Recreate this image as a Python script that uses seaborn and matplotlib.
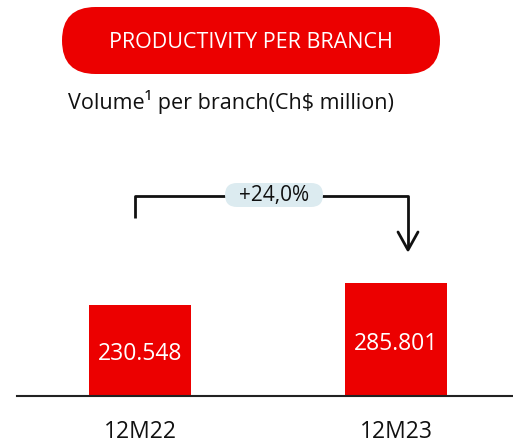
import matplotlib
matplotlib.use("Agg")
import matplotlib.pyplot as plt
from matplotlib.patches import FancyBboxPatch
import seaborn as sns
import pandas as pd

categories = ["12M22", "12M23"]
values = [230.548, 285.801]
value_labels = ["230.548", "285.801"]
title = "PRODUCTIVITY PER BRANCH"
subtitle = "Volume¹ per branch(Ch$ million)"
change_label = "+24,0%"

RED = "#EC0000"
W, H = 513, 445

sns.set_theme(style="white")
plt.rcParams["font.family"] = ["Open Sans", "DejaVu Sans"]

fig = plt.figure(figsize=(W / 100, H / 100), dpi=100)

# overlay axes in pixel coordinates for decorations
ov = fig.add_axes([0, 0, 1, 1])
ov.set_xlim(0, W)
ov.set_ylim(H, 0)
ov.axis("off")

# bar axes
base_y = 396
top_y = 170
left_x = 17
ax = fig.add_axes([left_x / W, (H - base_y) / H, (W - left_x) / W, (base_y - top_y) / H])
df = pd.DataFrame({"period": categories, "value": values})
sns.barplot(data=df, x="period", y="value", color=RED, saturation=1, width=102 / 256, ax=ax)
px_per_unit = 91 / 230.548
ax.set_ylim(0, (base_y - top_y) / px_per_unit)
x0 = -(140 - left_x) / 256
ax.set_xlim(x0, x0 + (W - left_x) / 256)
for p in ax.patches:
    p.set_edgecolor("none")
sns.despine(ax=ax, left=True, top=True, right=True, bottom=False)
ax.spines["bottom"].set_color("#222222")
ax.spines["bottom"].set_linewidth(1.5)
ax.set_yticks([])
ax.set_xticks([])
ax.set_xlabel("")
ax.set_ylabel("")
ax.patch.set_alpha(0)

for i, (v, lab) in enumerate(zip(values, value_labels)):
    ax.text(i, v / 2 - 10, lab, ha="center", va="center", color="white", fontsize=16.5)
    ax.text(i, -92, categories[i], ha="center", va="center", color="#111111", fontsize=16.5)

# title pill
pill = FancyBboxPatch((62, 7), 378, 67, boxstyle="round,pad=0,rounding_size=33.5",
                      facecolor=RED, edgecolor="none")
ov.add_patch(pill)
ov.text(251, 42, title, ha="center", va="center", color="white", fontsize=15.5)
ov.text(68, 102, subtitle, ha="left", va="center", color="#111111", fontsize=15.5)

# bracket
ov.plot([135, 135, 408, 408], [218, 196, 196, 248], color="#111111", lw=2, solid_capstyle="butt")
ov.plot([398, 408, 418], [232, 250, 232], color="#111111", lw=2)
lab_pill = FancyBboxPatch((225, 183), 98, 24, boxstyle="round,pad=0,rounding_size=12",
                          facecolor="#DCEBF0", edgecolor="none", zorder=3)
ov.add_patch(lab_pill)
ov.text(274, 196, change_label, ha="center", va="center", color="#111111", fontsize=15, zorder=4)

fig.savefig("out.png", dpi=100)
